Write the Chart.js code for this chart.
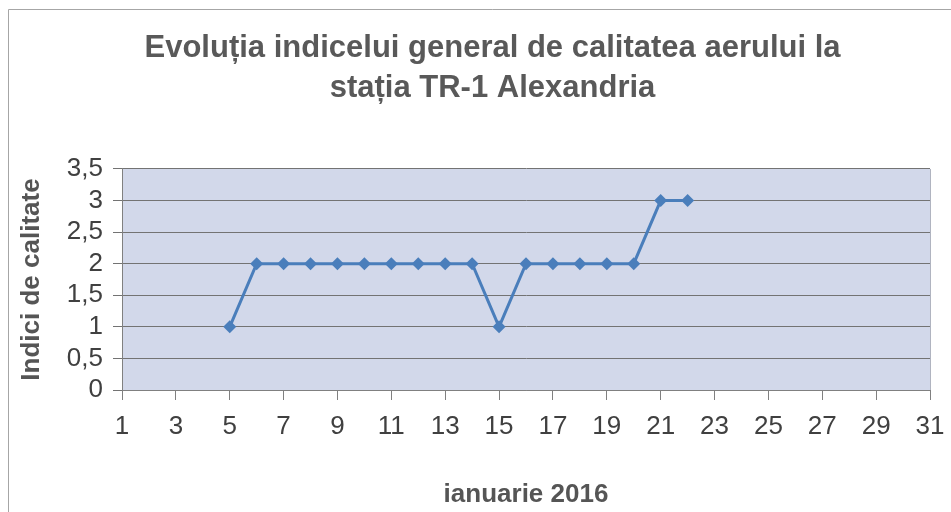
<!DOCTYPE html>
<html>
<head>
<meta charset="utf-8">
<script src="https://cdn.jsdelivr.net/npm/chart.js@4"></script>
<style>
  html, body { margin: 0; padding: 0; overflow: hidden; background: #fff; }
</style>
</head>
<body>
<canvas id="chart" width="976" height="512"></canvas>
<script>
// ---------- Data ----------
const days        = [5, 6, 7, 8, 9, 10, 11, 12, 13, 14, 15, 16, 17, 18, 19, 20, 21, 22];
const indexValues = [1, 2, 2, 2, 2, 2, 2, 2, 2, 2, 1, 2, 2, 2, 2, 2, 3, 3];
const xTicks      = [1, 3, 5, 7, 9, 11, 13, 15, 17, 19, 21, 23, 25, 27, 29, 31];
const yTicks      = [0, 0.5, 1, 1.5, 2, 2.5, 3, 3.5];
const yTickLabels = ['0', '0,5', '1', '1,5', '2', '2,5', '3', '3,5'];
const titleLines  = ['Evoluția indicelui general de calitatea aerului la', 'stația TR-1 Alexandria'];
const xTitle      = 'ianuarie 2016';
const yTitle      = 'Indici de calitate';

const FONT = "'Liberation Sans', Arial, sans-serif";
const BLUE = '#4a7ebb';

// plot background + outer frame (Excel-style)
const frame = {
  id: 'frame',
  beforeDraw(chart) {
    const { ctx, chartArea: a } = chart;
    ctx.save();
    ctx.fillStyle = '#d2d8ea';
    ctx.fillRect(a.left, a.top, a.right - a.left, a.bottom - a.top);
    ctx.strokeStyle = '#b0b4c0';
    ctx.lineWidth = 1;
    ctx.beginPath();
    ctx.moveTo(Math.round(a.right) + 0.5, a.top);
    ctx.lineTo(Math.round(a.right) + 0.5, a.bottom);
    ctx.stroke();
    ctx.strokeStyle = '#a6a6a6';
    ctx.beginPath();
    ctx.moveTo(8.5, chart.height);
    ctx.lineTo(8.5, 9.5);
    ctx.lineTo(chart.width, 9.5);
    ctx.stroke();
    ctx.restore();
  }
};

new Chart(document.getElementById('chart'), {
  type: 'line',
  data: {
    datasets: [{
      data: days.map((d, i) => ({ x: d, y: indexValues[i] })),
      borderColor: BLUE,
      backgroundColor: BLUE,
      borderWidth: 3,
      pointStyle: 'rectRot',
      pointRadius: 6.5,
      pointBorderWidth: 0,
      pointBackgroundColor: BLUE,
      tension: 0,
    }]
  },
  options: {
    responsive: false,
    animation: false,
    layout: { padding: { left: 9, top: 9, right: 0, bottom: 0 } },
    plugins: {
      legend: { display: false },
      tooltip: { enabled: false },
      title: {
        display: true,
        text: titleLines,
        color: '#595959',
        font: { family: FONT, size: 31, weight: 'bold', lineHeight: 1.29 },
        padding: { top: 19, bottom: 61 },
      },
    },
    scales: {
      x: {
        type: 'linear',
        min: 1, max: 31,
        afterBuildTicks: s => { s.ticks = xTicks.map(v => ({ value: v })); },
        afterFit: s => { s.height = 122; },
        grid: { drawOnChartArea: false, drawTicks: true, tickLength: 10, color: '#808080' },
        border: { display: true, color: '#808080' },
        ticks: { color: '#404040', font: { family: FONT, size: 26 }, padding: 11, maxRotation: 0, autoSkip: false },
        title: { display: true, text: xTitle, color: '#555555', font: { family: FONT, size: 26, weight: 'bold' }, padding: { top: 0, bottom: 2 } },
      },
      y: {
        min: 0, max: 3.5,
        afterBuildTicks: s => { s.ticks = yTicks.map(v => ({ value: v })); },
        afterFit: s => { s.width = 113; },
        grid: { color: '#737373', tickLength: 9, drawTicks: true },
        border: { display: true, color: '#808080' },
        ticks: {
          color: '#404040',
          font: { family: FONT, size: 26 },
          padding: 10,
          autoSkip: false,
          callback: (v, i) => yTickLabels[i],
        },
        title: { display: true, text: yTitle, color: '#555555', font: { family: FONT, size: 26, weight: 'bold' }, padding: { top: 7, bottom: 0 } },
      },
      yRight: {
        position: 'right',
        display: true,
        grid: { display: false },
        border: { display: false },
        ticks: { display: false },
        afterFit: s => { s.width = 46; },
      },
    },
  },
  plugins: [frame],
});
</script>
</body>
</html>
